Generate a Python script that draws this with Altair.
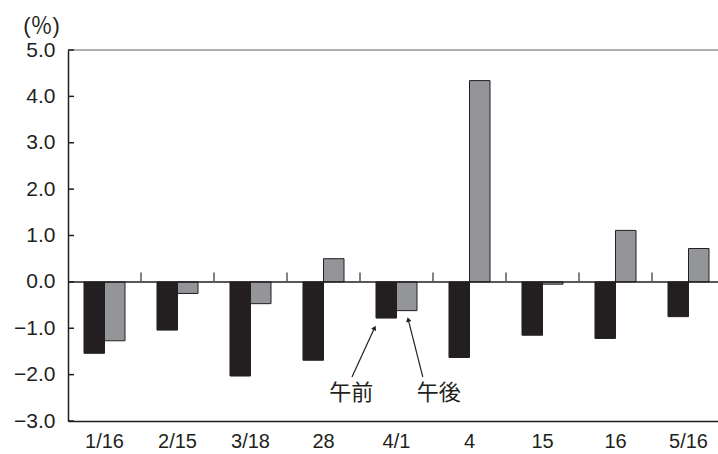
import altair as alt
import pandas as pd

# Trading days and the change (%) in the morning / afternoon sessions
dates = ["1/16", "2/15", "3/18", "28", "4/1", "4", "15", "16", "5/16"]
am_change = [-1.54, -1.04, -2.03, -1.69, -0.78, -1.63, -1.15, -1.22, -0.75]
pm_change = [-1.27, -0.25, -0.47, 0.50, -0.62, 4.34, -0.05, 1.11, 0.72]
sessions = ["午前", "午後"]

y_ticks = [-3, -2, -1, 0, 1, 2, 3, 4, 5]

# Callout labels and arrows, in category units (0..9) and percent
label_text = ["午前", "午後"]
label_x = [3.88, 5.08]
label_y = [-2.39, -2.39]
arrow_x0 = [3.89, 4.86]
arrow_y0 = [-2.05, -2.05]
arrow_x1 = [4.20, 4.66]
arrow_y1 = [-0.99, -0.81]
arrow_angle = [25, 346]

INK = "#231f20"
GREY = "#939598"
ZERO = "#58595b"
W, H = 650, 371
XRANGE = [0, 657]

rows = []
for d, a, p in zip(dates, am_change, pm_change):
    rows.append({"date": d, "session": sessions[0], "value": a})
    rows.append({"date": d, "session": sessions[1], "value": p})
bars_df = pd.DataFrame(rows)

yscale = alt.Scale(domain=[-3, 5], nice=False, zero=False)

bars = alt.Chart(bars_df).mark_bar(stroke=INK, strokeWidth=1).encode(
    x=alt.X(
        "date:N",
        sort=dates,
        scale=alt.Scale(paddingInner=0, paddingOuter=0, range=XRANGE),
        axis=alt.Axis(
            title=None, labelAngle=0, ticks=False, tickSize=0, labelPadding=10,
            labelFont="Liberation Sans", labelFontSize=20, labelColor=INK,
            domainColor=INK, domainWidth=1.5, labelFlush=False,
        ),
    ),
    xOffset=alt.XOffset("session:N", sort=sessions,
                        scale=alt.Scale(paddingOuter=0.78, paddingInner=0)),
    y=alt.Y(
        "value:Q",
        scale=yscale,
        axis=alt.Axis(
            values=y_ticks, format=".1f", grid=False, ticks=False, tickSize=0,
            labelPadding=13, labelFont="Liberation Sans", labelFontSize=21,
            labelColor=INK, domainColor=INK, domainWidth=1.5,
            title="(％)", titleAngle=0,
            titleFont="Liberation Sans, Noto Sans CJK JP",
            titleFontSize=22, titleFontWeight="normal", titleColor=INK,
            titleX=-27, titleY=-25, titleAlign="center", titleBaseline="middle",
        ),
    ),
    y2=alt.datum(0),
    color=alt.Color("session:N", sort=sessions,
                    scale=alt.Scale(domain=sessions, range=[INK, GREY]),
                    legend=None),
)

# Zero line and top frame line
hlines = alt.Chart(pd.DataFrame({"y": [0, 5], "c": ["zero", "top"]})).mark_rule(
    strokeWidth=1.5
).encode(
    x=alt.value(0), x2=alt.value(W),
    y=alt.Y("y:Q", scale=yscale),
    color=alt.Color("c:N", scale=alt.Scale(domain=["zero", "top"], range=[ZERO, INK]),
                    legend=None),
)

# Inward ticks on the value axis
ytick_marks = alt.Chart(pd.DataFrame({"y": y_ticks})).mark_rule(
    color=INK, strokeWidth=1.5
).encode(
    x=alt.value(0), x2=alt.value(6),
    y=alt.Y("y:Q", scale=yscale),
)

xq = alt.Scale(domain=[0, len(dates)], range=XRANGE, nice=False, zero=False)

# Separators between days, rising from the zero line
sep_df = pd.DataFrame({"pos": list(range(1, len(dates))), "lo": 0.0, "hi": 0.2})
seps = alt.Chart(sep_df).mark_rule(color=ZERO, strokeWidth=1.5).encode(
    x=alt.X("pos:Q", scale=xq, axis=None),
    y=alt.Y("lo:Q", scale=yscale),
    y2="hi:Q",
)

arrow_df = pd.DataFrame({"x0": arrow_x0, "y0": arrow_y0, "x1": arrow_x1,
                         "y1": arrow_y1, "ang": arrow_angle})
arrow_lines = alt.Chart(arrow_df).mark_rule(color=INK, strokeWidth=1.2).encode(
    x=alt.X("x0:Q", scale=xq, axis=None),
    y=alt.Y("y0:Q", scale=yscale),
    x2="x1:Q", y2="y1:Q",
)
arrow_heads = alt.Chart(arrow_df).mark_point(
    shape="triangle-up", filled=True, color=INK, size=30, opacity=1
).encode(
    x=alt.X("x1:Q", scale=xq, axis=None),
    y=alt.Y("y1:Q", scale=yscale),
    angle=alt.Angle("ang:Q", scale=None),
)

labels = alt.Chart(pd.DataFrame({"t": label_text, "x": label_x, "y": label_y})).mark_text(
    font="Noto Sans CJK JP", fontSize=22, color=INK, baseline="middle", align="center"
).encode(
    x=alt.X("x:Q", scale=xq, axis=None),
    y=alt.Y("y:Q", scale=yscale),
    text="t:N",
)

chart = alt.layer(
    bars, hlines, ytick_marks, seps, arrow_lines, arrow_heads, labels
).resolve_scale(x="independent").properties(
    width=W, height=H,
    autosize="none",
    padding={"left": 68, "top": 50, "right": 0, "bottom": 33},
    background="white",
).configure_view(stroke=None)

chart.save("out.html", embed_options={"renderer": "svg", "actions": False})
